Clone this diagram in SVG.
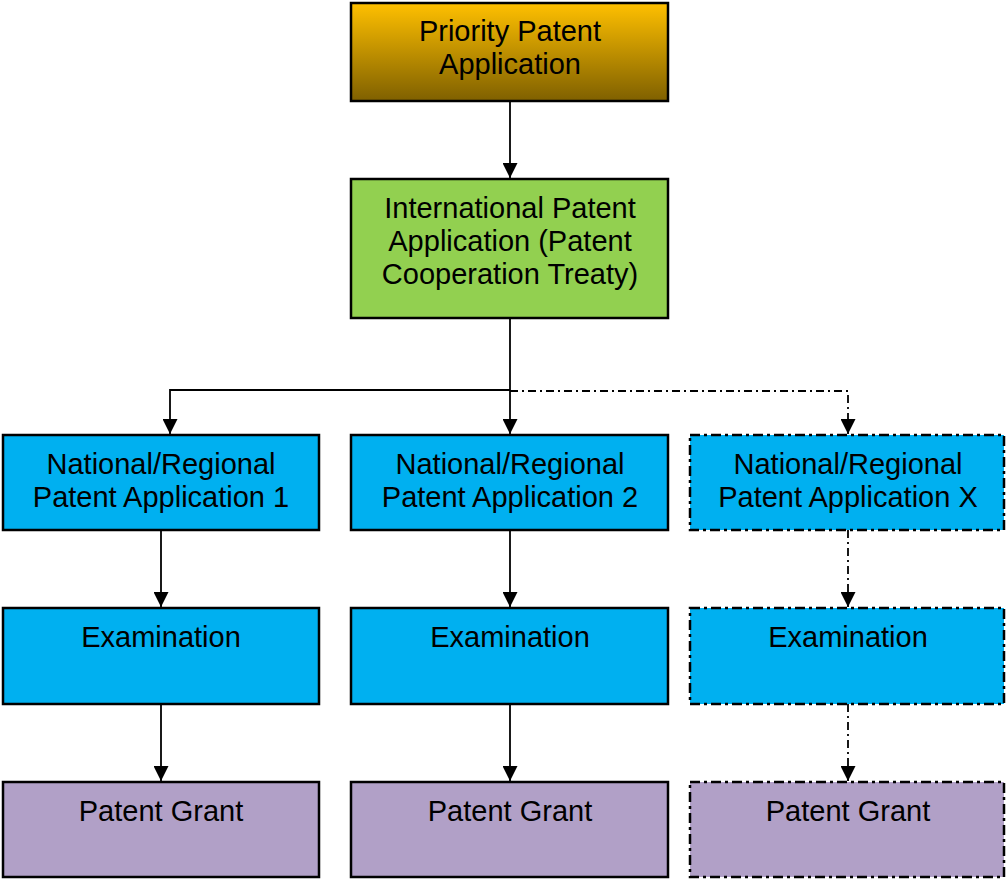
<svg xmlns="http://www.w3.org/2000/svg" width="1006" height="879" viewBox="0 0 1006 879">
<defs>
<linearGradient id="gold" x1="0" y1="0" x2="0" y2="1">
<stop offset="0" stop-color="#FFC000"/>
<stop offset="1" stop-color="#7F6000"/>
</linearGradient>
<marker id="arr" viewBox="0 0 15 15" refX="15" refY="7.5" markerWidth="15" markerHeight="15" markerUnits="userSpaceOnUse" orient="auto">
<path d="M0,0 L15,7.5 L0,15 Z" fill="#000"/>
</marker>
</defs>
<style>
.box{stroke:#000;stroke-width:2.5}
.dash{stroke-dasharray:10 4 3 4}
.blue{fill:#00B0F0}
.purple{fill:#B1A0C7}
.green{fill:#92D050}
text{font-family:"Liberation Sans",Arial,sans-serif;font-size:29px;fill:#000;text-anchor:middle}
.ln{stroke:#000;stroke-width:1.8;fill:none}
.dl{stroke-dasharray:8 4 2 4}
</style>
<g id="connectors">
<path class="ln" d="M510,101 V178" marker-end="url(#arr)"/>
<path class="ln" d="M510,318 V434" marker-end="url(#arr)"/>
<path class="ln" d="M510,390 H170 V434" marker-end="url(#arr)"/>
<path class="ln dl" d="M510,391 H848 V434" marker-end="url(#arr)"/>
<path class="ln" d="M161,530 V607" marker-end="url(#arr)"/>
<path class="ln" d="M510,530 V607" marker-end="url(#arr)"/>
<path class="ln dl" d="M848,530 V607" marker-end="url(#arr)"/>
<path class="ln" d="M161,704 V781" marker-end="url(#arr)"/>
<path class="ln" d="M510,704 V781" marker-end="url(#arr)"/>
<path class="ln dl" d="M848,704 V781" marker-end="url(#arr)"/>
</g>
<g id="priority">
<rect class="box" x="351" y="3" width="317" height="98" fill="url(#gold)"/>
<text x="510" y="41">Priority Patent</text>
<text x="510" y="74">Application</text>
</g>
<g id="pct">
<rect class="box green" x="351" y="179" width="317" height="139"/>
<text x="510" y="218">International Patent</text>
<text x="510" y="251">Application (Patent</text>
<text x="510" y="284">Cooperation Treaty)</text>
</g>
<g id="nat1">
<rect class="box blue" x="3" y="435" width="316" height="95"/>
<text x="161" y="474">National/Regional</text>
<text x="161" y="507">Patent Application 1</text>
</g>
<g id="nat2">
<rect class="box blue" x="351" y="435" width="317" height="95"/>
<text x="510" y="474">National/Regional</text>
<text x="510" y="507">Patent Application 2</text>
</g>
<g id="natx">
<rect class="box blue dash" x="690" y="435" width="314" height="95"/>
<text x="848" y="474">National/Regional</text>
<text x="848" y="507">Patent Application X</text>
</g>
<g id="exam1">
<rect class="box blue" x="3" y="608" width="316" height="96"/>
<text x="161" y="647">Examination</text>
</g>
<g id="exam2">
<rect class="box blue" x="351" y="608" width="317" height="96"/>
<text x="510" y="647">Examination</text>
</g>
<g id="examx">
<rect class="box blue dash" x="690" y="608" width="314" height="96"/>
<text x="848" y="647">Examination</text>
</g>
<g id="grant1">
<rect class="box purple" x="3" y="782" width="316" height="95"/>
<text x="161" y="821">Patent Grant</text>
</g>
<g id="grant2">
<rect class="box purple" x="351" y="782" width="317" height="95"/>
<text x="510" y="821">Patent Grant</text>
</g>
<g id="grantx">
<rect class="box purple dash" x="690" y="782" width="314" height="95"/>
<text x="848" y="821">Patent Grant</text>
</g>
</svg>
